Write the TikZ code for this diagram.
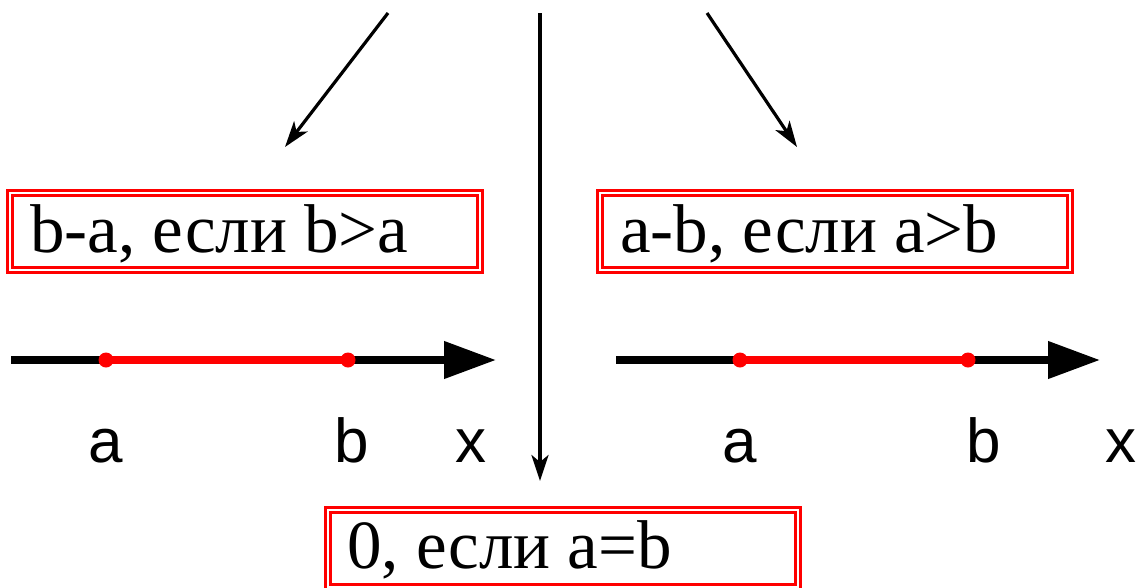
\documentclass[tikz,border=0pt]{standalone}
\usepackage{fontspec}
\setmainfont{Liberation Serif}
\newfontfamily\lblfont{Liberation Sans}
\usetikzlibrary{arrows.meta}
\begin{document}
\begin{tikzpicture}[x=1pt,y=-1pt,
 dbox/.style={draw=red, line width=2.6pt, double=white, double distance=2pt, inner sep=0pt, minimum width=470pt, minimum height=77pt},
 boxtext/.style={font=\fontsize{69}{80}\selectfont, anchor=base west, inner sep=0pt},
 axisline/.style={line width=7.5pt, -{Triangle[length=52pt,width=36pt]}},
 seg/.style={red, line width=8pt},
 dot/.style={circle, fill=red, inner sep=0pt, minimum size=15pt},
 lab/.style={font=\lblfont\fontsize{62}{70}\selectfont, anchor=base, inner sep=0pt},
 conn/.style={line width=3.2pt, -{Stealth[length=26pt,width=17pt,inset=7pt]}}]
\useasboundingbox (0,0) rectangle (1143,587);
% boxes
\node[dbox] (lbox) at (245,231.5) {};
\node[boxtext] (ltext) at (30,252) {b-a, если b>a};
\node[dbox] (rbox) at (835,231.5) {};
\node[boxtext] (rtext) at (620,252) {a-b, если a>b};
\node[dbox] (bbox) at (563,548.5) {};
\node[boxtext] (btext) at (347,568) {0, если a=b};
% arrows from above
\coordinate (s1) at (388,13);
\coordinate (e1) at (285,147);
\coordinate (s2) at (540,13);
\coordinate (e2) at (540,481);
\coordinate (s3) at (707,13);
\coordinate (e3) at (797,147);
\draw[conn] (s1) -- (e1);
\draw[conn] (s2) -- (e2);
\draw[conn] (s3) -- (e3);
% left axis
\coordinate (la0) at (11,360);
\coordinate (la1) at (496,360);
\draw[axisline] (la0) -- (la1);
\node[dot] (la) at (106,360) {};
\node[dot] (lb) at (348,360) {};
\draw[seg] (la.center) -- (lb.center);
\node[lab] (lal) at (106,462) {a};
\node[lab] (lbl) at (352,462) {b};
\node[lab] (lxl) at (471,462) {x};
% right axis
\coordinate (ra0) at (616,360);
\coordinate (ra1) at (1100,360);
\draw[axisline] (ra0) -- (ra1);
\node[dot] (ra) at (740,360) {};
\node[dot] (rb) at (968,360) {};
\draw[seg] (ra.center) -- (rb.center);
\node[lab] (ral) at (740,462) {a};
\node[lab] (rbl) at (984,462) {b};
\node[lab] (rxl) at (1121,462) {x};
\end{tikzpicture}
\end{document}
